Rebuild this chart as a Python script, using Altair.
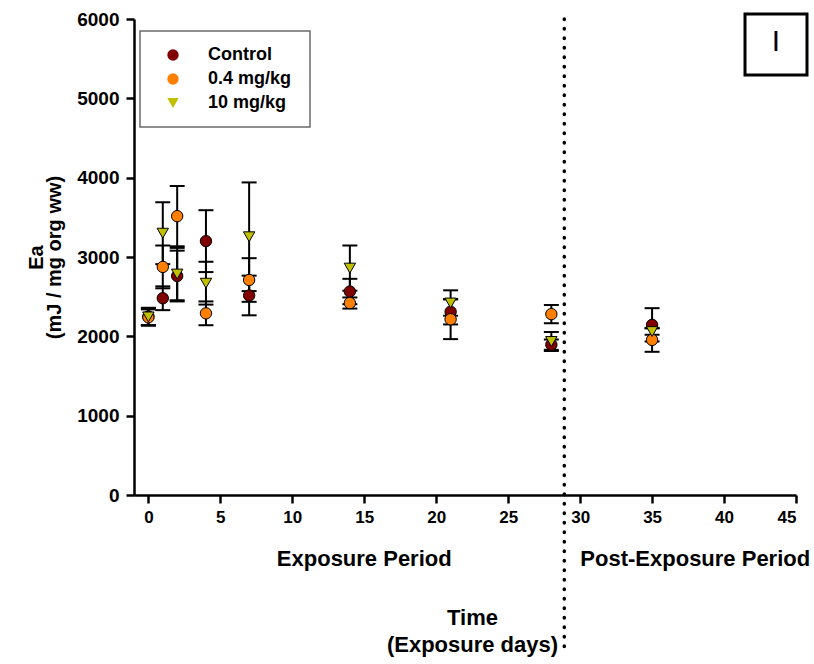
import altair as alt
import pandas as pd

# ---- data ----
days = [0, 1, 2, 4, 7, 14, 21, 28, 35]
groups = ["Control", "0.4 mg/kg", "10 mg/kg"]
control_mean = [2250, 2480, 2760, 3200, 2515, 2565, 2310, 1895, 2145]
control_se = [110, 150, 320, 390, 250, 160, 160, 65, 210]
low_mean = [2240, 2875, 3515, 2290, 2710, 2420, 2215, 2280, 1955]
low_se = [100, 270, 380, 150, 275, 70, 250, 115, 150]
high_mean = [2245, 3300, 2785, 2670, 3255, 2860, 2420, 1935, 2060]
high_se = [110, 390, 330, 270, 685, 285, 160, 120, 40]
colors = ["#800000", "#FF8000", "#C0C000"]
shapes = ["circle", "circle", "triangle-down"]
x_ticks = [0, 5, 10, 15, 20, 25, 30, 35, 40, 45]
y_ticks = [0, 1000, 2000, 3000, 4000, 5000, 6000]
boundary_day = [28.9]
period_names = ["Exposure Period", "Post-Exposure Period"]
period_centers = [15.0, 38.0]
panel_label = ["I"]

FONT = "Liberation Sans"

rows = []
for g, means, ses in zip(groups, [control_mean, low_mean, high_mean],
                         [control_se, low_se, high_se]):
    for d, m, s in zip(days, means, ses):
        rows.append({"day": d, "group": g, "mean": m, "lo": m - s, "hi": m + s})
df = pd.DataFrame(rows)

xscale = alt.Scale(domain=[-1, 45], nice=False, zero=False)
yscale = alt.Scale(domain=[0, 6000], nice=False)

xaxis = alt.Axis(values=x_ticks, title=["Time", "(Exposure days)"], format="d")
yaxis = alt.Axis(values=y_ticks, title=["Ea", "(mJ / mg org ww)"], format="d")

base = alt.Chart(df)

bars = base.mark_rule(color="black", strokeWidth=2).encode(
    x=alt.X("day:Q", scale=xscale, axis=xaxis),
    y=alt.Y("lo:Q", scale=yscale, axis=yaxis),
    y2="hi:Q",
)

caps_base = base.transform_calculate(xl="datum.day - 0.52", xr="datum.day + 0.52")
cap_lo = caps_base.mark_rule(color="black", strokeWidth=2).encode(
    x=alt.X("xl:Q", scale=xscale, axis=xaxis), x2="xr:Q",
    y=alt.Y("lo:Q", scale=yscale, axis=yaxis))
cap_hi = caps_base.mark_rule(color="black", strokeWidth=2).encode(
    x=alt.X("xl:Q", scale=xscale, axis=xaxis), x2="xr:Q",
    y=alt.Y("hi:Q", scale=yscale, axis=yaxis))

legend = alt.Legend(orient="none", legendX=30, legendY=27, title=None,
                    labelFont=FONT, labelFontSize=18, labelFontWeight="bold",
                    labelColor="black",
                    symbolSize=130, symbolStrokeColor="black", symbolStrokeWidth=1,
                    labelOffset=26, rowPadding=6, padding=0)

points = base.mark_point(filled=True, size=130, strokeWidth=1, opacity=1).encode(
    x=alt.X("day:Q", scale=xscale, axis=xaxis),
    y=alt.Y("mean:Q", scale=yscale, axis=yaxis),
    fill=alt.Fill("group:N", scale=alt.Scale(domain=groups, range=colors),
                  sort=groups, legend=legend),
    shape=alt.Shape("group:N", scale=alt.Scale(domain=groups, range=shapes),
                    sort=groups, legend=legend),
    stroke=alt.value("black"),
)

one = pd.DataFrame({"k": [0]})

legend_box = alt.Chart(one).mark_rect(fill="white", stroke="#6a6a6a", strokeWidth=1.5).encode(
    x=alt.value(6), x2=alt.value(176), y=alt.value(12), y2=alt.value(108))

divider = alt.Chart(pd.DataFrame({"day": boundary_day})).mark_rule(
    color="black", strokeWidth=3.5, strokeDash=[0.5, 9], strokeCap="round").encode(
    x=alt.X("day:Q", scale=xscale, axis=xaxis), y=alt.value(0), y2=alt.value(636))

periods = alt.Chart(pd.DataFrame({"day": period_centers, "name": period_names})).mark_text(
    font=FONT, fontSize=22, fontWeight="bold", color="black", baseline="middle").encode(
    x=alt.X("day:Q", scale=xscale, axis=xaxis), y=alt.value(540), text="name:N")

panel_box = alt.Chart(one).mark_rect(fill="white", stroke="black", strokeWidth=3).encode(
    x=alt.value(611), x2=alt.value(673), y=alt.value(-5), y2=alt.value(56))
panel_text = alt.Chart(pd.DataFrame({"t": panel_label})).mark_text(
    font=FONT, fontSize=30, color="black", baseline="middle").encode(
    x=alt.value(642), y=alt.value(23), text="t:N")

chart = alt.layer(
    legend_box, bars, cap_lo, cap_hi, points, divider, periods, panel_box, panel_text
).properties(
    width=662, height=476,
    padding={"left": 134, "top": 19, "right": 18, "bottom": 169},
    autosize="none",
    background="white",
).configure_view(stroke=None).configure_axis(
    labelFont=FONT, titleFont=FONT, labelFontWeight="bold", titleFontWeight="bold",
    labelColor="black", titleColor="black", domainColor="black", tickColor="black",
    domainWidth=2.5, tickWidth=2.5, tickSize=8, grid=False,
).configure_axisX(
    labelFontSize=17, labelPadding=6, titleFontSize=22, titlePadding=82,
    titleLineHeight=27, titleX=338,
).configure_axisY(
    labelFontSize=19, labelPadding=7, titleFontSize=20, titlePadding=12,
    titleLineHeight=18,
)

chart.save("out.html", embed_options={"renderer": "svg", "actions": False})
